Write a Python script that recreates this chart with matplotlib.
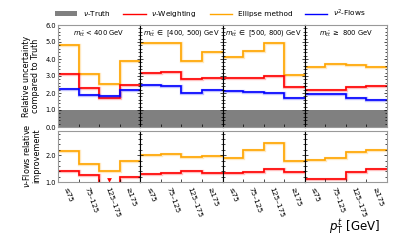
import matplotlib
matplotlib.use("Agg")
import matplotlib.pyplot as plt
import numpy as np
from matplotlib.patches import Patch
from matplotlib.lines import Line2D
from matplotlib.ticker import AutoMinorLocator, MultipleLocator

panel_titles = [r"$m_{t\bar{t}}$ < 400 GeV", r"$m_{t\bar{t}}$ $\in$ [400, 500) GeV",
                r"$m_{t\bar{t}}$ $\in$ [500, 800) GeV", r"$m_{t\bar{t}}$ $\geq$ 800 GeV"]
pt_bins = ["≤75", "75–125", "125–175", "≥175"]

# upper panel: relative uncertainty compared to truth
ellipse_unc = [[4.83, 3.10, 2.55, 3.87], [4.96, 4.96, 3.87, 4.42],
               [4.10, 4.49, 4.96, 3.05], [3.55, 3.70, 3.63, 3.50]]
weighting_unc = [[3.12, 2.30, 1.72, 2.47], [3.18, 3.23, 2.80, 2.86],
                 [2.86, 2.90, 3.00, 2.37], [2.18, 2.18, 2.33, 2.41]]
flows_unc = [[2.23, 1.90, 1.83, 2.15], [2.46, 2.40, 2.02, 2.20],
             [2.14, 2.08, 2.02, 1.72], [1.97, 1.97, 1.70, 1.60]]
truth_level = 1.0

# lower panel: nu-flows relative improvement
ellipse_imp = [[2.16, 1.67, 1.41, 1.80], [2.00, 2.06, 1.94, 1.97],
               [1.90, 2.19, 2.47, 1.78], [1.81, 1.89, 2.12, 2.20]]
weighting_imp = [[1.42, 1.25, 0.94, 1.17], [1.30, 1.34, 1.40, 1.32],
                 [1.33, 1.38, 1.48, 1.38], [1.12, 1.12, 1.37, 1.50]]

c_red = "#ff0000"
c_orange = "#ffa500"
c_blue = "#0000ff"
c_gray = "#808080"

fig = plt.figure(figsize=(3.99, 2.43), dpi=100)
W, H = 399, 243
x0, x1 = 58, 387
colw = (x1 - x0) / 4
top_t, top_b = 25, 127
bot_t, bot_b = 131, 182

spine_gray = "0.6"
edges = np.arange(5)
centers = np.arange(4) + 0.5


def stairs(ax, vals, color, lw=1.2):
    ax.stairs(vals, edges, color=color, lw=lw + 1.2, alpha=0.25, baseline=None)
    ax.stairs(vals, edges, color=color, lw=lw, baseline=None)


def style(ax, i, ylim):
    ax.set_xlim(0, 4)
    ax.set_ylim(*ylim)
    ax.set_xticks([1, 2, 3])
    ax.tick_params(axis="x", which="major", direction="in", length=2.5, width=0.5,
                   labelbottom=False, top=False)
    ax.tick_params(axis="y", which="both", direction="in", left=True, right=True,
                   width=0.5, labelsize=4.8, pad=1.5)
    ax.tick_params(axis="y", which="major", length=2.5)
    ax.tick_params(axis="y", which="minor", length=1.3)
    ax.yaxis.set_minor_locator(AutoMinorLocator(5))
    for s in ["top", "bottom", "left", "right"]:
        ax.spines[s].set_color(spine_gray)
        ax.spines[s].set_linewidth(0.8)
    if i > 0:
        ax.spines["left"].set_color("black")
        ax.spines["left"].set_linewidth(0.8)
        ax.tick_params(axis="y", labelleft=False)
    if i < 3:
        ax.spines["right"].set_color("black")
        ax.spines["right"].set_linewidth(0.8)


for i in range(4):
    l = (x0 + i * colw) / W
    axt = fig.add_axes([l, 1 - top_b / H, colw / W, (top_b - top_t) / H])
    axb = fig.add_axes([l, 1 - bot_b / H, colw / W, (bot_b - bot_t) / H])

    axt.fill_between([0, 4], 0, truth_level, color=c_gray, lw=0)
    stairs(axt, ellipse_unc[i], c_orange)
    stairs(axt, weighting_unc[i], c_red)
    stairs(axt, flows_unc[i], c_blue)
    style(axt, i, (0, 6))
    axt.yaxis.set_major_locator(MultipleLocator(1))
    axt.yaxis.set_major_formatter(matplotlib.ticker.FormatStrFormatter("%.1f"))
    axt.text(2, 5.5, panel_titles[i], ha="center", va="center", fontsize=4.9)

    stairs(axb, ellipse_imp[i], c_orange)
    stairs(axb, weighting_imp[i], c_red)
    ylo = 1.0
    for j, v in enumerate(weighting_imp[i]):
        if v < ylo:
            axb.plot(centers[j], ylo + 0.08, marker="v", color=c_red, ms=3.4, mew=0,
                     clip_on=False)
    style(axb, i, (1.0, 2.9))
    axb.yaxis.set_major_locator(MultipleLocator(1))
    axb.yaxis.set_major_formatter(matplotlib.ticker.FormatStrFormatter("%.1f"))
    axb.set_xticks(centers, minor=True)
    axb.set_xticklabels(pt_bins, minor=True, rotation=-70, ha="left", va="top",
                        rotation_mode="anchor", fontsize=5.4)
    axb.tick_params(axis="x", which="minor", length=0, pad=3)

fig.text(31 / W, 1 - 76 / H, "Relative uncertainty\ncompared to Truth", rotation=90,
         ha="center", va="center", fontsize=5.8, linespacing=1.0)
fig.text(31 / W, 1 - 156 / H, r"$\nu$-Flows relative" + "\nimprovement", rotation=90,
         ha="center", va="center", fontsize=5.8, linespacing=1.0)
fig.text(355 / W, 1 - 227 / H, r"$p_{\mathrm{T}}^{t}$ [GeV]", ha="center", va="center",
         fontsize=8.5)

handles = [Patch(facecolor=c_gray, edgecolor="none"),
           Line2D([], [], color=c_red, lw=1.0),
           Line2D([], [], color=c_orange, lw=1.0),
           Line2D([], [], color=c_blue, lw=1.0)]
labels = [r"$\nu$-Truth", r"$\nu$-Weighting", "Ellipse method", r"$\nu^2$-Flows"]
fig.legend(handles, labels, loc="center", bbox_to_anchor=(0.527, 1 - 13.5 / H), ncol=4,
           frameon=False, fontsize=5.3, handlelength=3.0, columnspacing=1.7,
           handletextpad=0.8, borderaxespad=0)

fig.savefig("out.png", dpi=100)
